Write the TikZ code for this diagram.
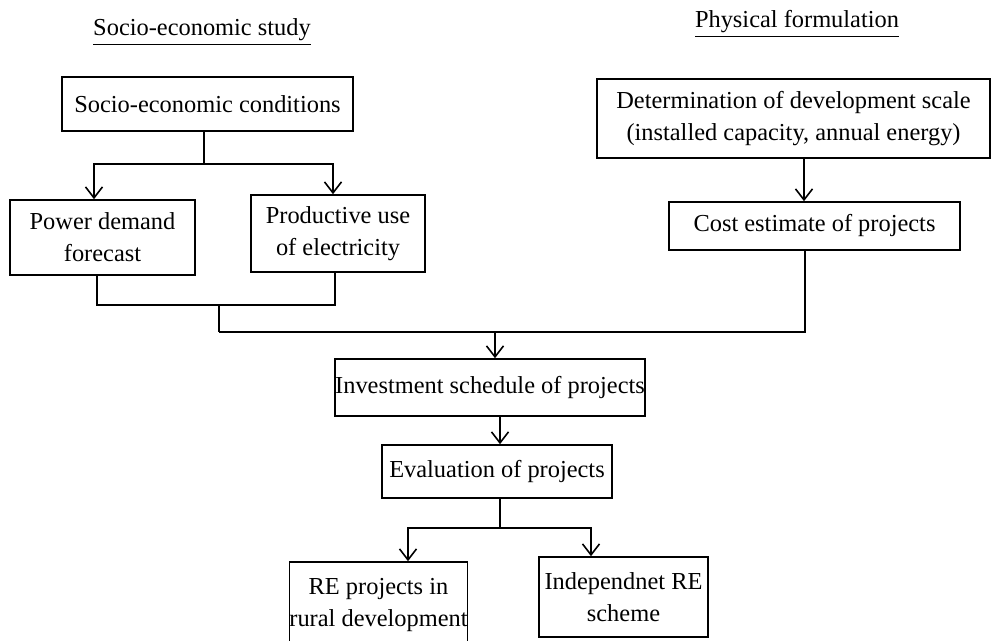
\documentclass[tikz,border=0pt]{standalone}
\usepackage{fontspec}
\setmainfont{Liberation Serif}
\usetikzlibrary{arrows.meta,calc}
\tikzset{
 box/.style={draw,line width=0.8pt,inner sep=0pt,align=center,font=\fontsize{12.2}{16}\selectfont},
 arr/.style={line width=0.8pt,-{Straight Barb[length=5.5pt,width=8.5pt,line width=0.8pt]}},
 ln/.style={line width=0.8pt},
 ttl/.style={font=\fontsize{12.2}{16}\selectfont,inner sep=0pt,anchor=base}
}
\begin{document}
\begin{tikzpicture}[x=0.5pt,y=-0.5pt]
 \useasboundingbox (0,0) rectangle (991,641);
 % titles
 \node[ttl] (tleft) at (202,36) {\underline{Socio-economic study}};
 \node[ttl] (tright) at (797,28) {\underline{Physical formulation}};
 % left branch
 \node[box,minimum width=145.5pt,minimum height=27pt] (socio) at (207.5,104) {Socio-economic conditions};
 \node[box,minimum width=92.5pt,minimum height=37.5pt] (power) at (102.5,237.5) {Power demand\\forecast};
 \node[box,minimum width=87pt,minimum height=38.5pt] (prod) at (338,233.5) {Productive use\\of electricity};
 % right branch
 \node[box,minimum width=196.5pt,minimum height=39.5pt] (determ) at (793.5,118.5) {Determination of development scale\\(installed capacity, annual energy)};
 \node[box,minimum width=145.5pt,minimum height=24pt] (cost) at (814.5,226) {Cost estimate of projects};
 % lower part
 \node[box,minimum width=155pt,minimum height=28.5pt] (invest) at (490,387.5) {Investment schedule of projects};
 \node[box,minimum width=115pt,minimum height=26.5pt] (eval) at (497,471.5) {Evaluation of projects};
 \node[box,minimum width=88.5pt,minimum height=43pt] (re) at (378.5,605) {RE projects in\\rural development};
 \node[box,minimum width=84.5pt,minimum height=40pt] (indep) at (623.5,597) {Independnet RE\\scheme};
 % socio -> power, prod
 \draw[ln] ([xshift=-1.75pt]socio.south) -- ++(0,32) coordinate (j1);
 \draw[arr] (j1) -| ([xshift=-4.25pt]power.north);
 \draw[arr] (j1) -| ([xshift=-2.5pt]prod.north);
 % power, prod -> merge
 \draw[ln] ([xshift=-2.75pt]power.south) |- ([xshift=-1.5pt]prod.south |- 0,305) -- ([xshift=-1.5pt]prod.south);
 \coordinate (j3) at (219,305);
 \draw[ln] (j3) -- (219,332) coordinate (j4);
 % determination -> cost
 \draw[arr] ([xshift=5.25pt]determ.south) -- ([xshift=5.25pt]determ.south |- cost.north);
 % merge line
 \draw[ln] ([xshift=-4.75pt]cost.south) |- (j4);
 \draw[arr] ([xshift=2.5pt]invest.north |- j4) -- ([xshift=2.5pt]invest.north);
 \draw[arr] ([xshift=1.5pt]eval.north |- invest.south) -- ([xshift=1.5pt]eval.north);
 % eval -> results
 \draw[ln] ([xshift=1.5pt]eval.south) -- ++(0,29) coordinate (j5);
 \draw[arr] (j5) -| ([xshift=14.75pt]re.north);
 \draw[arr] (j5) -| ([xshift=-16.25pt]indep.north);
\end{tikzpicture}
\end{document}
